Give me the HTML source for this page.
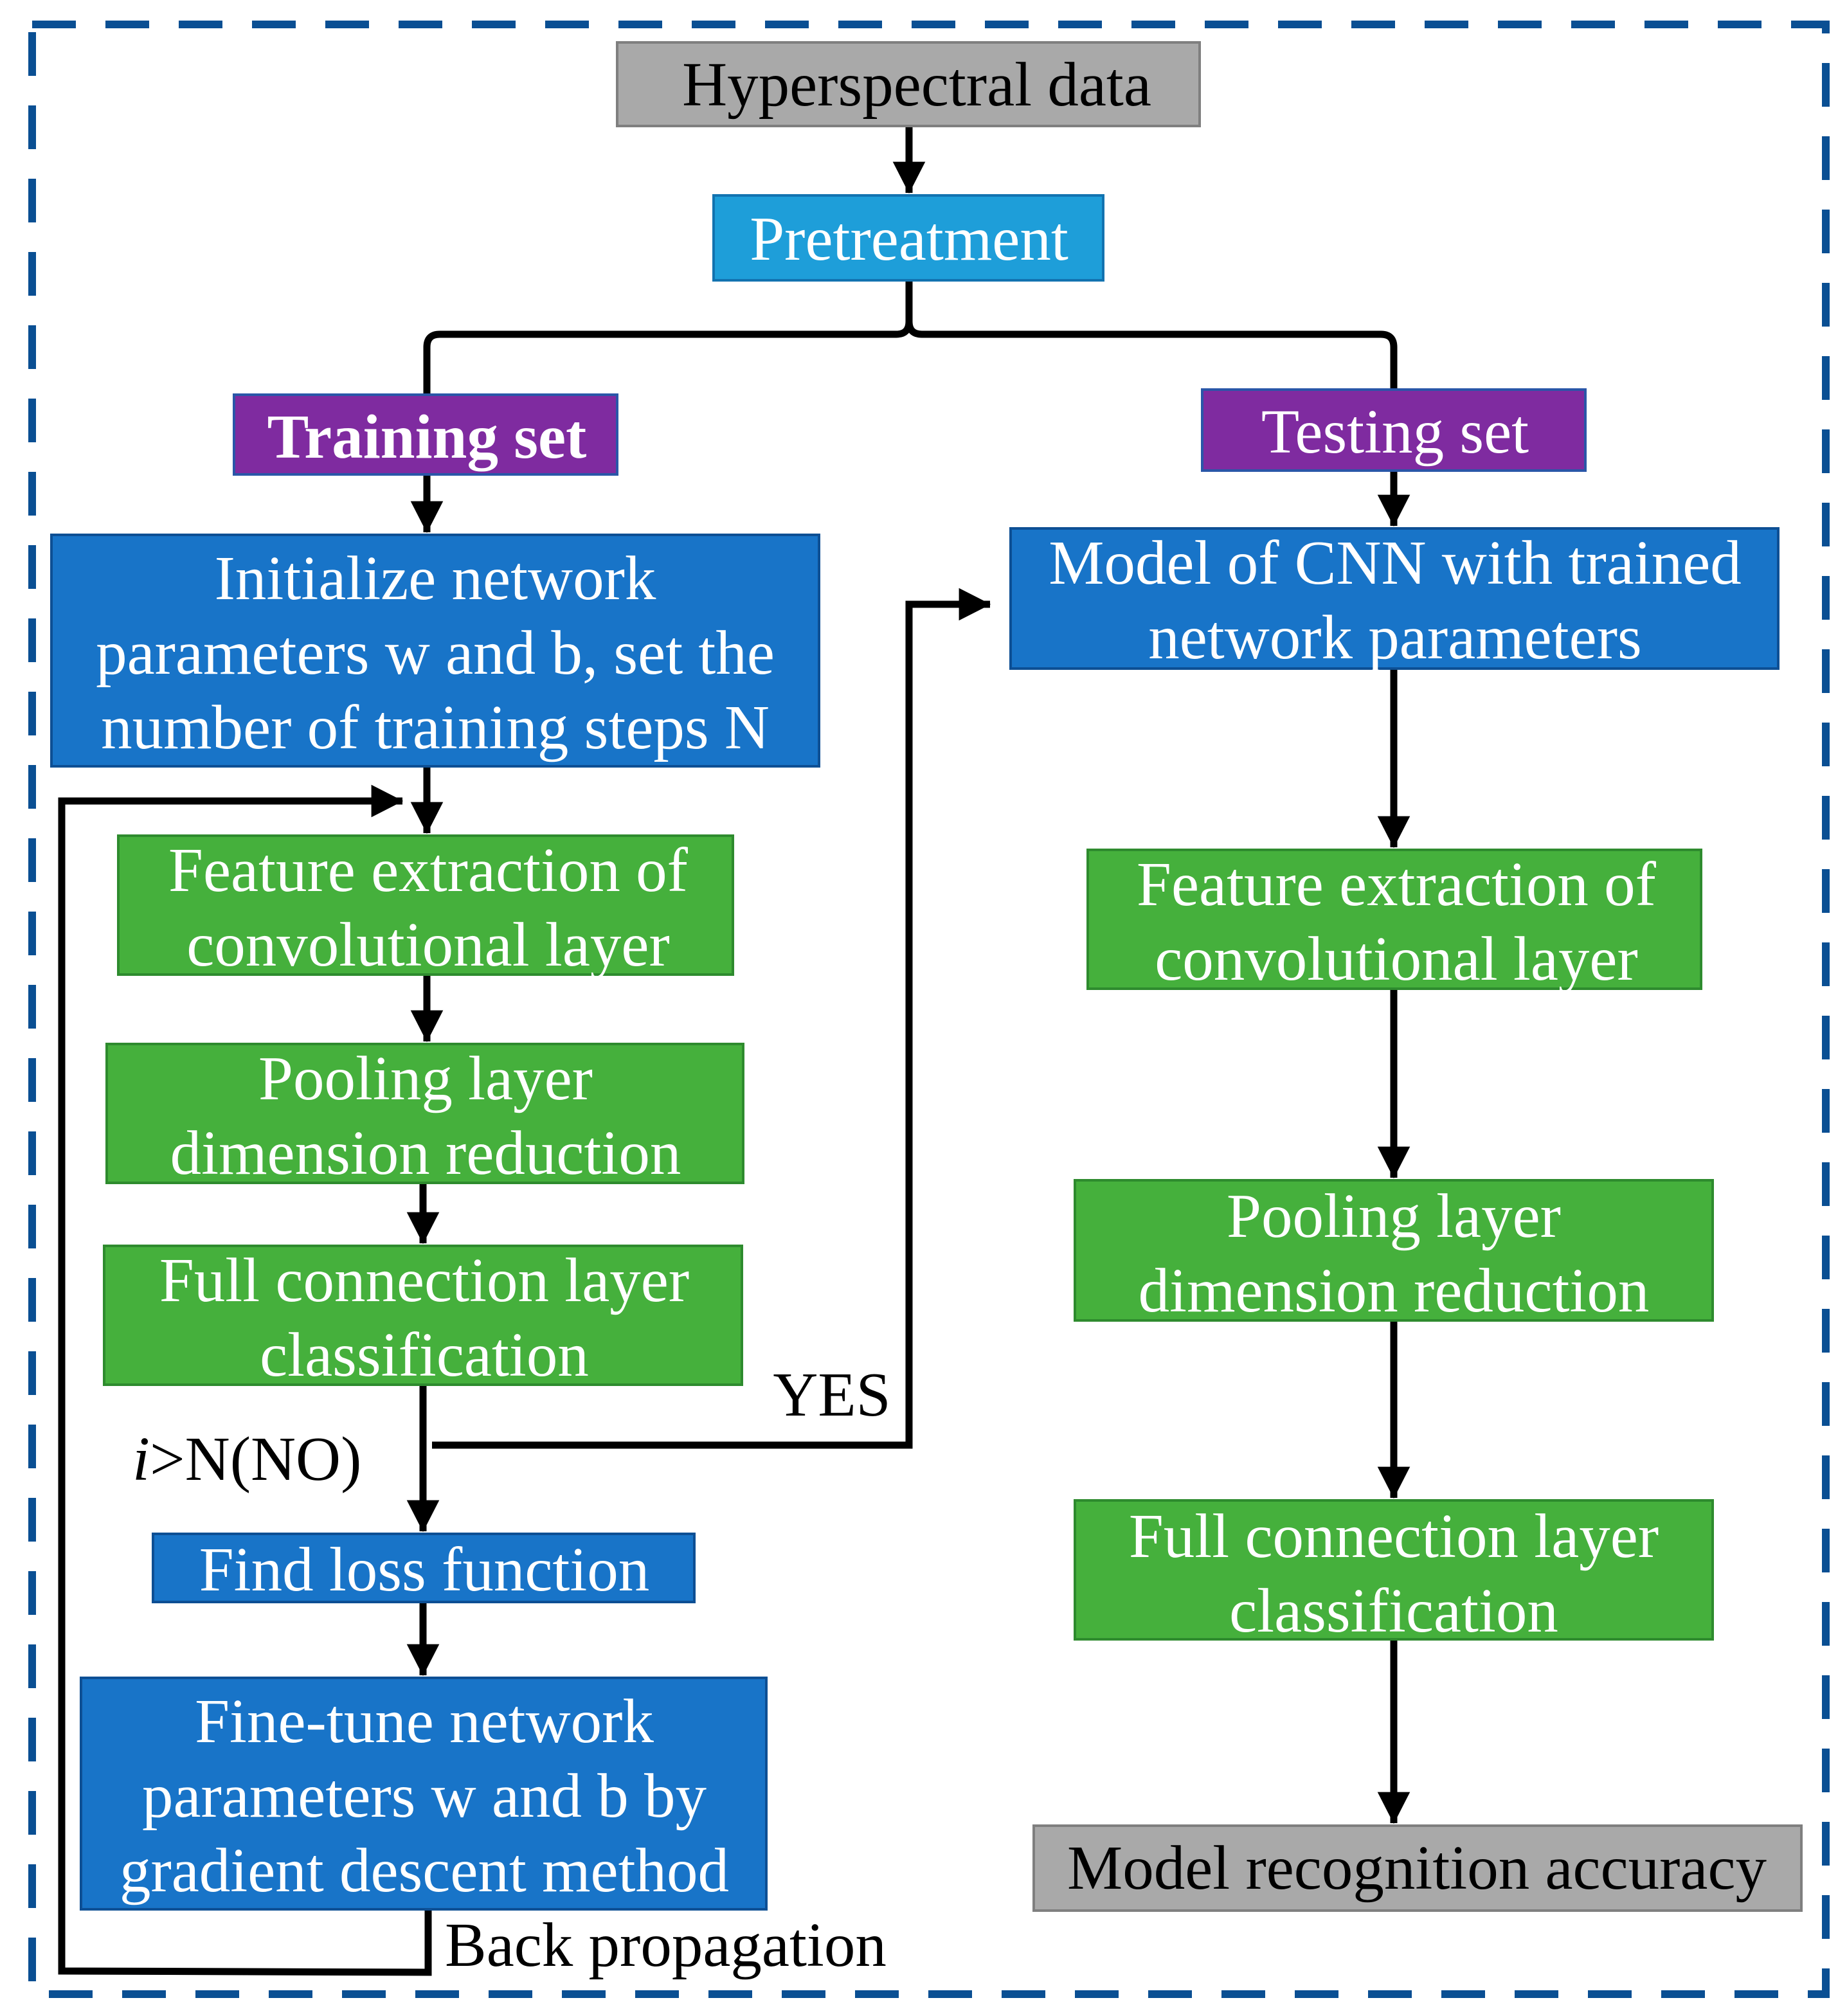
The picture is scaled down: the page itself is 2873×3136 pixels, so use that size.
<!DOCTYPE html>
<html><head><meta charset="utf-8"><style>
html,body{margin:0;padding:0;background:#fff;}
svg{display:block;}
text{font-family:"Liberation Serif","Times New Roman",serif;font-size:97px;fill:#fff;text-anchor:middle;}
.k{fill:#000;}
</style></head><body>
<svg width="2873" height="3136" viewBox="0 0 2873 3136" xmlns="http://www.w3.org/2000/svg">
<defs>
<marker id="a" markerWidth="5" markerHeight="5" refX="4.4" refY="2.5" orient="auto" markerUnits="strokeWidth">
<path d="M0,0.2 L4.5,2.5 L0,4.8 Z" fill="#000"/>
</marker>
</defs>
<rect x="50" y="38" width="2790" height="3064" fill="none" stroke="#0A4F93" stroke-width="12" stroke-dasharray="68 46"/>

<g stroke="#000" stroke-width="11" fill="none">
<line x1="1414" y1="196" x2="1414" y2="300" marker-end="url(#a)"/>
<path d="M1414,436 L1414,500 Q1414,520 1394,520 L684,520 Q664,520 664,540 L664,614"/>
<path d="M1414,436 L1414,500 Q1414,520 1434,520 L2148,520 Q2168,520 2168,540 L2168,606"/>
<line x1="664" y1="738" x2="664" y2="828" marker-end="url(#a)"/>
<line x1="2168" y1="732" x2="2168" y2="818" marker-end="url(#a)"/>
<line x1="664" y1="1192" x2="664" y2="1296" marker-end="url(#a)"/>
<line x1="664" y1="1516" x2="664" y2="1620" marker-end="url(#a)"/>
<line x1="658" y1="1840" x2="658" y2="1934" marker-end="url(#a)"/>
<line x1="658" y1="2154" x2="658" y2="2382" marker-end="url(#a)"/>
<line x1="658" y1="2492" x2="658" y2="2606" marker-end="url(#a)"/>
<path d="M666,2970 L666,3068 L96,3066 L96,1246 L626,1246" marker-end="url(#a)"/>
<path d="M672,2248 L1414,2248 L1414,940 L1540,940" marker-end="url(#a)"/>
<line x1="2168" y1="1040" x2="2168" y2="1318" marker-end="url(#a)"/>
<line x1="2168" y1="1538" x2="2168" y2="1832" marker-end="url(#a)"/>
<line x1="2168" y1="2054" x2="2168" y2="2330" marker-end="url(#a)"/>
<line x1="2168" y1="2550" x2="2168" y2="2836" marker-end="url(#a)"/>
</g>

<g stroke-width="4">
<rect x="960" y="66" width="906" height="130" fill="#A9A9A9" stroke="#7F7F7F"/>
<rect x="1110" y="304" width="606" height="132" fill="#1E9ED9" stroke="#1273B0"/>
<rect x="364" y="614" width="596" height="124" fill="#7F2BA0" stroke="#2A56A8"/>
<rect x="1870" y="606" width="596" height="126" fill="#7F2BA0" stroke="#2A56A8"/>
<rect x="80" y="832" width="1194" height="360" fill="#1874C8" stroke="#0D4F94"/>
<rect x="1572" y="822" width="1194" height="218" fill="#1874C8" stroke="#0D4F94"/>
<rect x="184" y="1300" width="956" height="216" fill="#45B03C" stroke="#2E8B2E"/>
<rect x="166" y="1624" width="990" height="216" fill="#45B03C" stroke="#2E8B2E"/>
<rect x="162" y="1938" width="992" height="216" fill="#45B03C" stroke="#2E8B2E"/>
<rect x="238" y="2386" width="842" height="106" fill="#1874C8" stroke="#0D4F94"/>
<rect x="126" y="2610" width="1066" height="360" fill="#1874C8" stroke="#0D4F94"/>
<rect x="1692" y="1322" width="954" height="216" fill="#45B03C" stroke="#2E8B2E"/>
<rect x="1672" y="1836" width="992" height="218" fill="#45B03C" stroke="#2E8B2E"/>
<rect x="1672" y="2334" width="992" height="216" fill="#45B03C" stroke="#2E8B2E"/>
<rect x="1608" y="2840" width="1194" height="132" fill="#A9A9A9" stroke="#7F7F7F"/>
</g>

<text class="k" x="1426" y="164">Hyperspectral data</text>
<text x="1414" y="404">Pretreatment</text>
<text x="664" y="712" font-weight="bold">Training set</text>
<text x="2170" y="704">Testing set</text>
<text x="677" y="932">Initialize network</text>
<text x="677" y="1048">parameters w and b, set the</text>
<text x="677" y="1164">number of training steps N</text>
<text x="2170" y="908">Model of CNN with trained</text>
<text x="2170" y="1024">network parameters</text>
<text x="666" y="1386">Feature extraction of</text>
<text x="666" y="1502">convolutional layer</text>
<text x="662" y="1710">Pooling layer</text>
<text x="662" y="1826">dimension reduction</text>
<text x="660" y="2024">Full connection layer</text>
<text x="660" y="2140">classification</text>
<text x="660" y="2474">Find loss function</text>
<text x="660" y="2710">Fine-tune network</text>
<text x="660" y="2826">parameters w and b by</text>
<text x="660" y="2942">gradient descent method</text>
<text x="2172" y="1408">Feature extraction of</text>
<text x="2172" y="1524">convolutional layer</text>
<text x="2168" y="1924">Pooling layer</text>
<text x="2168" y="2040">dimension reduction</text>
<text x="2168" y="2422">Full connection layer</text>
<text x="2168" y="2538">classification</text>
<text class="k" x="2204" y="2938">Model recognition accuracy</text>
<text class="k" x="1294" y="2202">YES</text>
<text class="k" x="206" y="2302" style="text-anchor:start"><tspan font-style="italic">i</tspan>&gt;N(NO)</text>
<text class="k" x="692" y="3058" style="text-anchor:start">Back propagation</text>
</svg>
</body></html>
